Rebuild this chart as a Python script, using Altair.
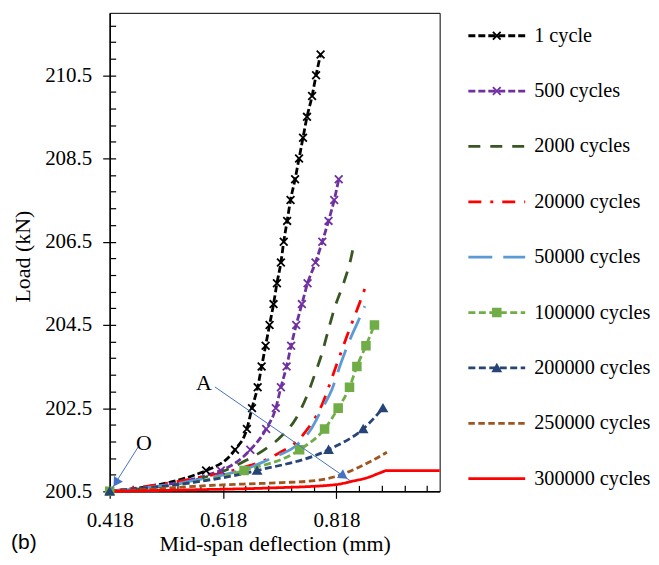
import altair as alt
import numpy as np
import pandas as pd

# ---------------- data ----------------
SERIES = ["1 cycle", "500 cycles", "2000 cycles", "20000 cycles", "50000 cycles",
          "100000 cycles", "200000 cycles", "250000 cycles", "300000 cycles"]

defl_1 = [0.418, 0.588, 0.639, 0.660, 0.669, 0.679, 0.686, 0.693, 0.700, 0.707, 0.713,
          0.720, 0.725, 0.731, 0.737, 0.745, 0.752, 0.759, 0.766, 0.775, 0.782, 0.790]
load_1 = [200.5, 201.0, 201.5, 202.0, 202.5, 203.0, 203.5, 204.0, 204.5, 205.0, 205.5,
          206.0, 206.5, 207.0, 207.5, 208.0, 208.5, 209.0, 209.5, 210.0, 210.5, 211.0]

defl_500 = [0.418, 0.614, 0.666, 0.694, 0.711, 0.720, 0.730, 0.738, 0.747, 0.757, 0.767,
            0.781, 0.793, 0.804, 0.814, 0.822]
load_500 = [200.5, 201.0, 201.5, 202.0, 202.5, 203.0, 203.5, 204.0, 204.5, 205.0, 205.5,
            206.0, 206.5, 207.0, 207.5, 208.0]

defl_2000 = [0.418, 0.575, 0.628, 0.658, 0.693, 0.722, 0.746, 0.766, 0.781, 0.793, 0.804,
             0.816, 0.831, 0.843, 0.850]
load_2000 = [200.5, 200.80, 201.04, 201.24, 201.52, 201.84, 202.24, 202.80, 203.36, 203.84,
             204.40, 204.96, 205.52, 206.07, 206.53]

defl_20000 = [0.418, 0.575, 0.646, 0.707, 0.759, 0.793, 0.815, 0.837, 0.860, 0.872]
load_20000 = [200.5, 200.83, 201.04, 201.35, 201.86, 202.60, 203.42, 204.25, 205.07, 205.52]

defl_50000 = [0.418, 0.575, 0.672, 0.707, 0.743, 0.773, 0.792, 0.810, 0.825, 0.840, 0.854, 0.868]
load_50000 = [200.5, 200.78, 201.11, 201.32, 201.56, 201.99, 202.47, 202.95, 203.55, 204.09,
              204.52, 204.95]

defl_100000 = [0.418, 0.655, 0.753, 0.797, 0.821, 0.841, 0.854, 0.870, 0.885]
load_100000 = [200.5, 201.0, 201.5, 202.0, 202.5, 203.0, 203.5, 204.0, 204.5]

defl_200000 = [0.418, 0.678, 0.804, 0.865, 0.900]
load_200000 = [200.5, 201.0, 201.5, 202.0, 202.5]

defl_250000 = [0.418, 0.487, 0.593, 0.663, 0.722, 0.781, 0.822, 0.851, 0.881, 0.907]
load_250000 = [200.5, 200.55, 200.64, 200.68, 200.71, 200.76, 200.88, 201.04, 201.24, 201.44]

defl_300000 = [0.418, 0.575, 0.699, 0.816, 0.845, 0.875, 0.896, 0.907, 1.0]
load_300000 = [200.5, 200.54, 200.58, 200.66, 200.74, 200.84, 200.95, 201.0, 201.0]

DEFL = [defl_1, defl_500, defl_2000, defl_20000, defl_50000, defl_100000, defl_200000,
        defl_250000, defl_300000]
LOAD = [load_1, load_500, load_2000, load_20000, load_50000, load_100000, load_200000,
        load_250000, load_300000]

MARKER_SERIES = ["1 cycle", "500 cycles", "100000 cycles", "200000 cycles"]

X_TICKS = [0.418, 0.618, 0.818]
Y_TICKS = [200.5, 202.5, 204.5, 206.5, 208.5, 210.5]

# annotations (data coordinates)
ann_text = ["O", "A"]
ann_tx = [0.4784, 0.5842]
ann_ty = [201.666, 203.10]
arrow_x = [0.4696, 0.6036]
arrow_y = [201.595, 203.01]
arrow_x2 = [0.4203, 0.8427]
arrow_y2 = [200.53, 200.75]
head_x = [0.4291, 0.8307]
head_y = [200.708, 200.864]
head_angle = [212, 125]

# ---------------- styles ----------------
COLORS = ["#000000", "#7030A0", "#385723", "#FF0000", "#5B9BD5", "#70AD47", "#264478",
          "#A0541E", "#FF0000"]
DASHES = [[7, 3], [7, 3], [12, 10], [13, 9, 3, 9], [24, 11], [7, 3.5], [7, 3.5],
          [6.5, 3.5], [1, 0]]
X_PATH = "M-1,-1L1,1M1,-1L-1,1"
SHAPES = [X_PATH, X_PATH, "square", "triangle-up"]
SIZES = [60, 60, 80, 110]
SERIF = "Liberation Serif"
ARROW_COLOR = "#4472C4"

W, H = 331, 480

# ---------------- tables ----------------
rows = []
for s, xs, ys in zip(SERIES, DEFL, LOAD):
    for i, (x, y) in enumerate(zip(xs, ys)):
        rows.append({"series": s, "deflection": x, "load": y, "idx": i})
df = pd.DataFrame(rows)
mdf = df[df["series"].isin(MARKER_SERIES)]

ann_df = pd.DataFrame({"label": ann_text, "tx": ann_tx, "ty": ann_ty,
                       "ax": arrow_x, "ay": arrow_y, "ax2": arrow_x2, "ay2": arrow_y2,
                       "hx": head_x, "hy": head_y, "angle": head_angle})

x_minor = [round(0.418 + 0.04 * k, 3) for k in range(15)]
y_minor = [round(200.5 + 0.4 * k, 1) for k in range(29)]

xscale = alt.Scale(domain=[0.418, 1.0], nice=False, zero=False)
yscale = alt.Scale(domain=[200.5, 212.0], nice=False, zero=False)
color_scale = alt.Scale(domain=SERIES, range=COLORS)
dash_scale = alt.Scale(domain=SERIES, range=DASHES)
shape_scale = alt.Scale(domain=MARKER_SERIES, range=SHAPES)
size_scale = alt.Scale(domain=MARKER_SERIES, range=SIZES)

x_main_axis = alt.Axis(values=X_TICKS, format=".3f", title="Mid-span deflection (mm)",
                       tickSize=7, labelPadding=11, titlePadding=3, grid=False,
                       labelFlush=False)
y_main_axis = alt.Axis(values=Y_TICKS, format=".1f", title="Load (kN)",
                       tickSize=7, labelPadding=11, titlePadding=10.2, grid=False,
                       labelFlush=False, titleY=244)

lines = alt.Chart(df).mark_line(interpolate="monotone", strokeWidth=2.8).encode(
    x=alt.X("deflection:Q", scale=xscale, axis=x_main_axis),
    y=alt.Y("load:Q", scale=yscale, axis=y_main_axis),
    color=alt.Color("series:N", scale=color_scale, legend=None),
    strokeDash=alt.StrokeDash("series:N", scale=dash_scale, legend=None),
    order="idx:Q",
)

points = alt.Chart(mdf).mark_point(filled=True, strokeWidth=1.8, opacity=1).encode(
    x=alt.X("deflection:Q", scale=xscale, axis=None),
    y=alt.Y("load:Q", scale=yscale, axis=None),
    color=alt.Color("series:N", scale=color_scale, legend=None),
    stroke=alt.Stroke("series:N", scale=color_scale, legend=None),
    shape=alt.Shape("series:N", scale=shape_scale, legend=None),
    size=alt.Size("series:N", scale=size_scale, legend=None),
)

minor_ticks = alt.Chart(df).mark_point(opacity=0).encode(
    x=alt.X("deflection:Q", scale=xscale,
            axis=alt.Axis(orient="bottom", values=x_minor, labels=False, domain=False,
                          tickSize=6, offset=-6, title=None, grid=False)),
    y=alt.Y("load:Q", scale=yscale,
            axis=alt.Axis(orient="left", values=y_minor, labels=False, domain=False,
                          tickSize=6, offset=-6, title=None, grid=False)),
)

arrows = alt.Chart(ann_df).mark_rule(color=ARROW_COLOR, strokeWidth=1).encode(
    x=alt.X("ax:Q", scale=xscale, axis=None),
    y=alt.Y("ay:Q", scale=yscale, axis=None),
    x2="ax2:Q",
    y2="ay2:Q",
)

heads = alt.Chart(ann_df).mark_point(shape="triangle-up", filled=True, size=110,
                                     color=ARROW_COLOR, opacity=1).encode(
    x=alt.X("hx:Q", scale=xscale, axis=None),
    y=alt.Y("hy:Q", scale=yscale, axis=None),
    angle=alt.Angle("angle:Q", scale=None),
)

labels = alt.Chart(ann_df).mark_text(font=SERIF, fontSize=22, color="black").encode(
    x=alt.X("tx:Q", scale=xscale, axis=None),
    y=alt.Y("ty:Q", scale=yscale, axis=None),
    text="label:N",
)

main = alt.layer(lines, points, minor_ticks, arrows, heads, labels).resolve_axis(
    x="independent", y="independent"
).properties(width=W, height=H)

# ---------------- custom legend panel ----------------
leg_df = pd.DataFrame({"series": SERIES})
leg_mdf = pd.DataFrame({"series": MARKER_SERIES})
leg_y = alt.Scale(type="point", domain=SERIES, padding=0.321, align=0.644)

leg_lines = alt.Chart(leg_df).mark_rule(strokeWidth=2.8).encode(
    y=alt.Y("series:N", scale=leg_y, axis=None),
    x=alt.value(0),
    x2=alt.value(57),
    color=alt.Color("series:N", scale=color_scale, legend=None),
    strokeDash=alt.StrokeDash("series:N", scale=dash_scale, legend=None),
)
leg_marks = alt.Chart(leg_mdf).mark_point(filled=True, strokeWidth=1.8, opacity=1).encode(
    y=alt.Y("series:N", scale=leg_y, axis=None),
    x=alt.value(28.5),
    color=alt.Color("series:N", scale=color_scale, legend=None),
    stroke=alt.Stroke("series:N", scale=color_scale, legend=None),
    shape=alt.Shape("series:N", scale=shape_scale, legend=None),
    size=alt.Size("series:N", scale=size_scale, legend=None),
)
leg_text = alt.Chart(leg_df).mark_text(align="left", baseline="middle", font=SERIF,
                                       fontSize=20.3, color="black", dx=9).encode(
    y=alt.Y("series:N", scale=leg_y, axis=None),
    x=alt.value(57),
    text="series:N",
)
legend = alt.layer(leg_lines, leg_marks, leg_text).properties(
    width=57, height=H, view=alt.ViewBackground(stroke="transparent")
)

chart = alt.hconcat(main, legend, spacing=19.8).properties(
    padding={"left": 3, "top": 3, "right": 0, "bottom": 0},
    title=alt.TitleParams("(b)", orient="bottom", anchor="start", font="Liberation Sans",
                          fontSize=21, fontWeight="normal", color="black", dy=-27),
).configure_view(stroke="black", strokeWidth=1).configure_axis(
    domainColor="black", tickColor="black", labelColor="black", titleColor="black",
    labelFont=SERIF, titleFont=SERIF, labelFontSize=21, titleFontSize=22,
    titleFontWeight="normal", domainWidth=1.5, tickWidth=1.2,
)

chart.save("out.html", embed_options={"renderer": "svg", "actions": False})
